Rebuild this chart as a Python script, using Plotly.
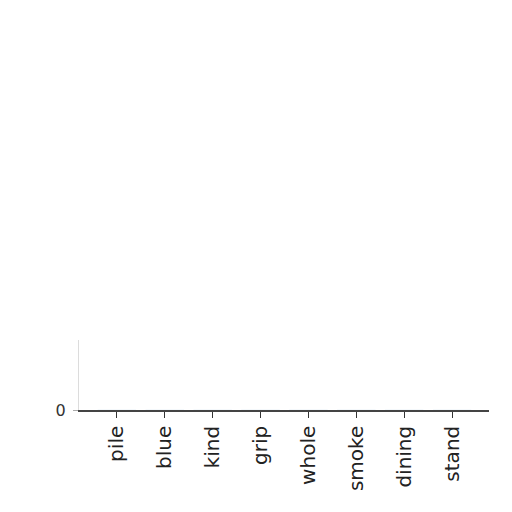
import plotly.graph_objects as go

categories = ["pile", "blue", "kind", "grip", "whole", "smoke", "dining", "stand"]
series_a = [0, 0, 0, 0, 0, 0, 0, 0]
series_b = [0, 0, 0, 0, 0, 0, 0, 0]

fig = go.Figure()
fig.add_trace(go.Bar(x=list(range(len(categories))), y=series_a, marker_color="#d62728", name="A"))
fig.add_trace(go.Bar(x=list(range(len(categories))), y=series_b, marker_color="#1f77b4", name="B"))

fig.update_layout(
    width=512, height=512,
    margin=dict(l=71, r=31, t=332, b=110),
    paper_bgcolor="white", plot_bgcolor="white",
    showlegend=False,
    barmode="group",
    font=dict(family="DejaVu Sans", color="#222"),
)
fig.update_xaxes(
    tickmode="array", tickvals=list(range(len(categories))), ticktext=categories,
    range=[-0.79, 7.77], tickangle=-90,
    showline=True, linecolor="#444", linewidth=1.5,
    ticks="outside", ticklen=6, tickcolor="#333",
    showgrid=False, zeroline=False,
    tickfont=dict(size=20, family="DejaVu Sans", color="#222"),
)
fig.update_yaxes(
    range=[0, 1], tickvals=[0], ticktext=["0"],
    showline=True, linecolor="#dcdcdc", linewidth=1,
    ticks="outside", ticklen=5, tickcolor="#aaaaaa",
    showgrid=False, zeroline=False,
    ticklabelstandoff=4,
    tickfont=dict(size=16, family="DejaVu Sans", color="#333"),
)

fig.write_html("out.html")
